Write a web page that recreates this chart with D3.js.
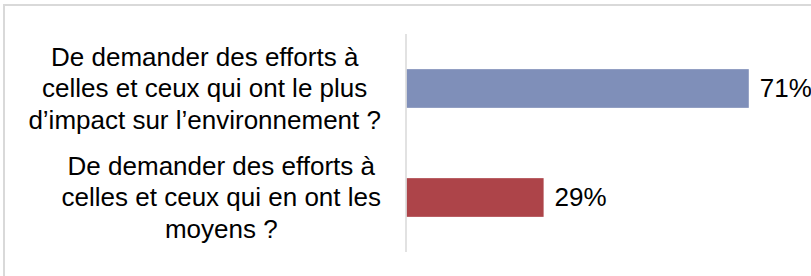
<!DOCTYPE html>
<html>
<head>
<meta charset="utf-8">
<script src="https://cdn.jsdelivr.net/npm/d3@7"></script>
<style>
  body { margin: 0; background: #fff; }
  svg { display: block; font-family: "Liberation Sans", Arial, sans-serif; }
</style>
</head>
<body>
<div id="chart"></div>
<script>
// Data
const categories = ['plus_impact', 'moyens'];
const labelLines = [
    ['De demander des efforts à', 'celles et ceux qui ont le plus', 'd’impact sur l’environnement ?'],
    ['De demander des efforts à', 'celles et ceux qui en ont les', 'moyens ?']
];
const values = [71.4, 28.6];
const valueLabels = ['71%', '29%'];
const barColors = ['#7f8fb9', '#ad4449'];

const width = 811;
const height = 276;

const svg = d3.select('#chart')
    .append('svg')
    .attr('width', width)
    .attr('height', height);

// light frame (cropped on the right and bottom)
svg.append('rect')
    .attr('x', 4)
    .attr('y', 5)
    .attr('width', width + 10)
    .attr('height', height + 10)
    .attr('fill', 'none')
    .attr('stroke', '#d9d9d9')
    .attr('stroke-width', 2);

const axisX = 406;

const x = d3.scaleLinear()
    .domain([0, 100])
    .range([axisX + 0.5, axisX + 0.5 + 479.4]);

const y = d3.scaleBand()
    .domain(categories)
    .range([34, 252])
    .paddingInner(0.645)
    .paddingOuter(0.3225);

// bars
svg.append('g')
    .selectAll('rect')
    .data(values)
    .join('rect')
    .attr('x', x(0))
    .attr('y', (d, i) => y(categories[i]))
    .attr('width', d => x(d) - x(0))
    .attr('height', y.bandwidth())
    .attr('fill', (d, i) => barColors[i]);

// vertical axis line
svg.append('line')
    .attr('x1', axisX)
    .attr('x2', axisX)
    .attr('y1', y.range()[0])
    .attr('y2', y.range()[1])
    .attr('stroke', '#d9d9d9')
    .attr('stroke-width', 1.5);

// value labels
svg.append('g')
    .selectAll('text')
    .data(values)
    .join('text')
    .attr('x', d => x(d) + 11)
    .attr('y', (d, i) => y(categories[i]) + y.bandwidth() / 2)
    .attr('dy', '0.34em')
    .attr('font-size', 26)
    .attr('fill', '#000')
    .text((d, i) => valueLabels[i]);

// category labels: lines centred inside a block right-aligned near the axis
const labelRight = 381;
const lineHeight = 31.5;

const labels = svg.append('g')
    .selectAll('g')
    .data(categories)
    .join('g');

labels.each(function(c, i) {
    const g = d3.select(this);
    const lines = labelLines[i];
    const cy = y(c) + y.bandwidth() / 2;
    const texts = g.selectAll('text')
        .data(lines)
        .join('text')
        .attr('font-size', 26)
        .attr('fill', '#000')
        .attr('text-anchor', 'middle')
        .attr('y', (d, k) => cy + (k - (lines.length - 1) / 2) * lineHeight)
        .attr('dy', '0.34em')
        .text(d => d);
    const maxW = d3.max(texts.nodes(), n => n.getComputedTextLength());
    texts.attr('x', labelRight - maxW / 2);
});
</script>
</body>
</html>
